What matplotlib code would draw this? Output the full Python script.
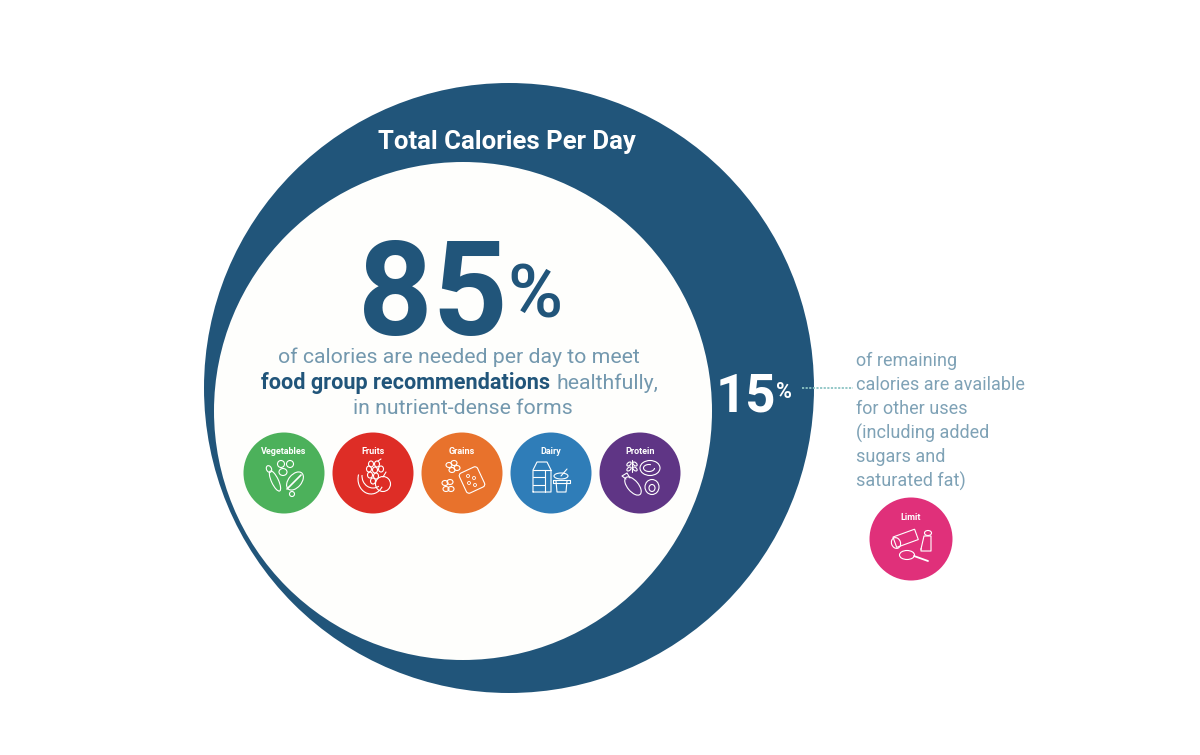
import matplotlib
matplotlib.use("Agg")
import matplotlib.pyplot as plt
import matplotlib.patches as patches
from matplotlib.transforms import Affine2D

plt.rcParams['font.family'] = ['Roboto', 'DejaVu Sans']

# values from the picture
shares = [85, 15]
group_names = ["Vegetables", "Fruits", "Grains", "Dairy", "Protein"]
group_colors = ["#4CB15B", "#DE2D26", "#E8722C", "#2F7DB8", "#5F3585"]
limit_name = "Limit"
limit_color = "#E0307A"
note_lines = ["of remaining", "calories are available", "for other uses",
              "(including added", "sugars and", "saturated fat)"]
navy = "#21557A"
text_blue = "#7398AE"
note_blue = "#7FA2B6"

fig = plt.figure(figsize=(12, 7.55), dpi=100)
ax = fig.add_axes([0, 0, 1, 1])
# work in pixels, y going down
ax.set_xlim(0, 1200)
ax.set_ylim(755, 0)
ax.set_aspect('equal')
ax.axis('off')

# big circle and the inner one
ax.add_patch(patches.Circle((509, 388), 305, fc=navy, ec='none'))
ax.add_patch(patches.Circle((463, 411), 249, fc='#FEFEFC', ec='none'))

ax.text(507, 142, "Total Calories Per Day", color='white', fontsize=18.5, fontweight='bold',
        ha='center', va='center')

# 85%
ax.text(432.5, 335, str(shares[0]), color=navy, fontsize=94, fontweight='bold', ha='center', va='baseline')
ax.text(535, 317, "%", color=navy, fontsize=54, fontweight='medium', ha='center', va='baseline')

ax.text(459, 357, "of calories are needed per day to meet", color=text_blue, fontsize=15.3,
        ha='center', va='center')
ax.text(261, 383, "food group recommendations", color=navy, fontsize=15.6, fontweight='bold',
        ha='left', va='center')
ax.text(556, 383, "healthfully,", color=text_blue, fontsize=15.3, ha='left', va='center')
ax.text(462.5, 409, "in nutrient-dense forms", color=text_blue, fontsize=15.3, ha='center', va='center')

# 15%
ax.text(746, 411, str(shares[1]), color='white', fontsize=38, fontweight='bold', ha='center', va='baseline')
ax.text(784, 398, "%", color='white', fontsize=15.5, fontweight='bold', ha='center', va='baseline')

# dotted leader
ax.plot([802, 853], [388, 388], color='#8CC4C4', lw=1.3, ls=(0, (1.2, 0.8)))

for i, line_text in enumerate(note_lines):
    ax.text(856, 361 + i * 24, line_text, color=note_blue, fontsize=13.0, ha='left', va='center')


def line(x, y, pts, lw=0.8):
    ax.plot([x + p[0] for p in pts], [y + p[1] for p in pts], color='white', lw=lw,
            solid_capstyle='round', solid_joinstyle='round')


def ring(x, y, dx, dy, w, h, angle=0, lw=0.8):
    ax.add_patch(patches.Ellipse((x + dx, y + dy), w, h, angle=angle, fc='none', ec='white', lw=lw))


def arc(x, y, dx, dy, w, h, a1, a2, angle=0, lw=0.8):
    ax.add_patch(patches.Arc((x + dx, y + dy), w, h, angle=angle, theta1=a1, theta2=a2, color='white', lw=lw))


def veg_icon(x, y):
    ring(x, y, -3, -14, 7, 7)
    ring(x, y, 6, -14, 7, 7)
    ring(x, y, -1, -6, 8, 7)
    ring(x, y, -9, 3, 7, 22, angle=-25)
    ring(x, y, -15, -9, 5, 7, angle=-25)
    ring(x, y, 11, 3, 13, 21, angle=40)
    line(x, y, [(3, 11), (17, -3)], lw=1.2)
    ring(x, y, 8, 16, 5, 5)


def fruit_icon(x, y):
    for dx, dy in [(-2, -14), (4, -14), (-4, -9), (2, -8), (8, -9), (-3, -3), (3, -2), (0, 3)]:
        ring(x, y, dx, dy, 5, 6)
    line(x, y, [(5, -17), (8, -19)])
    ring(x, y, 10, 6, 15, 15)
    line(x, y, [(10, -1), (13, -6)])
    arc(x, y, -2, 1, 26, 30, 35, 200)
    arc(x, y, 0, -2, 22, 24, 60, 185)


def grain_icon(x, y):
    for dx, dy in [(-13, -13), (-8, -15), (-5, -10), (-10, -8), (-17, 5), (-12, 4), (-16, 11), (-11, 11)]:
        ring(x, y, dx, dy, 6, 5)
    rot = Affine2D().rotate_deg_around(x + 10, y + 2, -25) + ax.transData
    ax.add_patch(patches.FancyBboxPatch((x + 1, y - 8), 18, 20, boxstyle="round,pad=1,rounding_size=3",
                                        fc='none', ec='white', lw=0.8, transform=rot))
    for dx, dy in [(6, -2), (12, 0), (7, 5), (13, 7)]:
        ring(x, y, dx, dy, 3, 3, lw=0.6)


def dairy_icon(x, y):
    line(x, y, [(-18, 14), (-18, -8), (-14, -16), (-4, -16), (0, -8), (0, 14), (-18, 14)])
    line(x, y, [(-18, -8), (0, -8)])
    line(x, y, [(-18, -1), (-6, -1)])
    line(x, y, [(-18, 7), (-6, 7)])
    line(x, y, [(-6, -8), (-6, 14)])
    line(x, y, [(5, 3), (6, 14), (15, 14), (16, 3)])
    line(x, y, [(2, 2), (19, 2), (19, 5), (2, 5), (2, 2)])
    ring(x, y, 10, -2, 14, 6)
    line(x, y, [(10, -2), (16, -9)])


def protein_icon(x, y):
    ring(x, y, 10, -10, 20, 15)
    arc(x, y, 9, -10, 11, 7, 0, 300)
    ring(x, y, -7, 8, 11, 22, angle=-40)
    line(x, y, [(-14, 1), (-18, -2), (-13, -5), (-10, 0)])
    ring(x, y, 12, 9, 14, 15)
    ring(x, y, 12, 10, 6, 7)
    line(x, y, [(-8, -18), (-8, -6)])
    ring(x, y, -11, -14, 5, 3, angle=-40)
    ring(x, y, -5, -14, 5, 3, angle=40)
    ring(x, y, -11, -9, 5, 3, angle=-40)
    ring(x, y, -5, -9, 5, 3, angle=40)


def limit_icon(x, y):
    rot = Affine2D().rotate_deg_around(x - 6, y - 3, -20) + ax.transData
    ax.add_patch(patches.Rectangle((x - 17, y - 8), 23, 11, fc='none', ec='white', lw=0.8, transform=rot))
    ring(x, y, -15, 2, 9, 11, angle=-20)
    line(x, y, [(10, 8), (13, -5), (20, -5), (20, 10), (10, 10), (10, 8)])
    ring(x, y, 17, -8, 7, 5)
    ring(x, y, -4, 14, 15, 9)
    line(x, y, [(3, 15), (17, 20)], lw=1.3)


# food group badges, spaced evenly
icons = [veg_icon, fruit_icon, grain_icon, dairy_icon, protein_icon]
for i, name in enumerate(group_names):
    cx = 284 + i * 89
    cy = 473
    ax.add_patch(patches.Circle((cx, cy), 40.5, fc=group_colors[i], ec='none'))
    ax.text(cx, 452, name, color='white', fontsize=6.5, fontweight='bold', ha='center', va='center')
    icons[i](cx, 478)

ax.add_patch(patches.Circle((911, 539), 41.5, fc=limit_color, ec='none'))
ax.text(911, 518, limit_name, color='white', fontsize=6.5, fontweight='bold', ha='center', va='center')
limit_icon(911, 541)

fig.savefig("out.png", dpi=100)
